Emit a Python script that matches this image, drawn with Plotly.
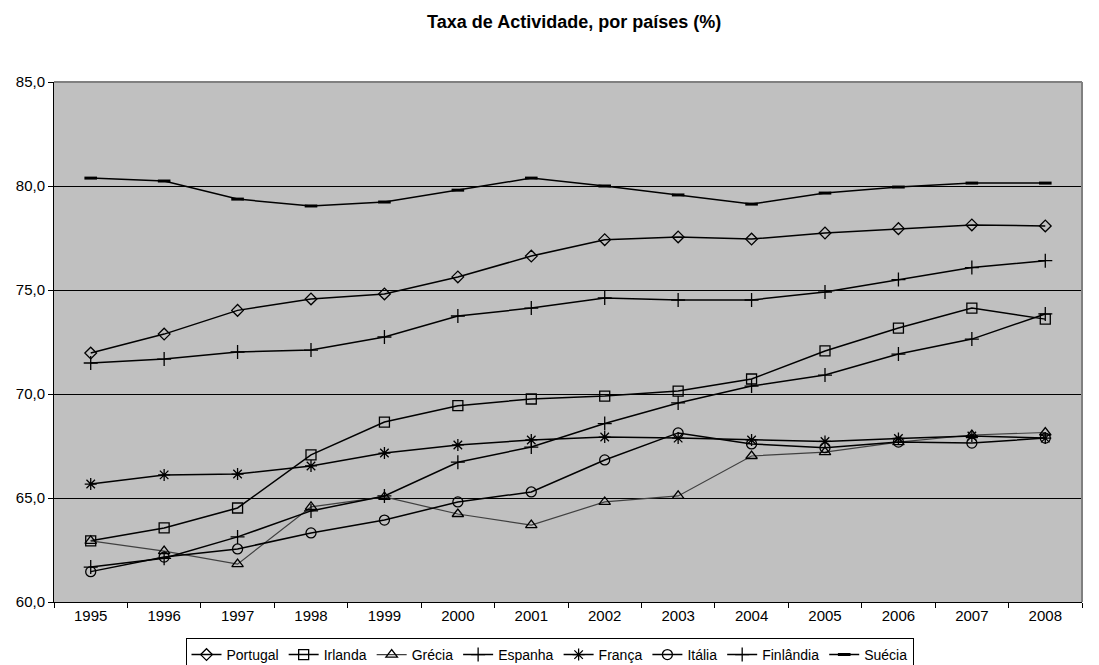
import plotly.graph_objects as go

years = ["1995", "1996", "1997", "1998", "1999", "2000", "2001", "2002", "2003", "2004", "2005", "2006", "2007", "2008"]

portugal = [71.97, 72.88, 74.02, 74.57, 74.81, 75.63, 76.63, 77.42, 77.55, 77.45, 77.74, 77.95, 78.13, 78.08]
irlanda = [62.94, 63.56, 64.52, 67.07, 68.65, 69.44, 69.76, 69.90, 70.14, 70.72, 72.07, 73.17, 74.13, 73.60]
grecia = [62.94, 62.45, 61.82, 64.57, 65.05, 64.23, 63.70, 64.81, 65.10, 67.02, 67.21, 67.69, 68.03, 68.15]
espanha = [71.49, 71.68, 72.02, 72.11, 72.74, 73.75, 74.13, 74.62, 74.52, 74.52, 74.90, 75.50, 76.08, 76.41]
franca = [65.67, 66.11, 66.15, 66.54, 67.16, 67.55, 67.79, 67.93, 67.88, 67.79, 67.72, 67.86, 67.98, 67.88]
italia = [61.46, 62.16, 62.55, 63.32, 63.94, 64.81, 65.29, 66.83, 68.13, 67.60, 67.42, 67.69, 67.64, 67.88]
finlandia = [61.68, 62.10, 63.13, 64.38, 65.10, 66.72, 67.45, 68.58, 69.57, 70.38, 70.91, 71.92, 72.64, 73.85]
suecia = [80.38, 80.24, 79.37, 79.04, 79.23, 79.80, 80.38, 80.00, 79.57, 79.13, 79.66, 79.95, 80.14, 80.14]

series = [
    ("Portugal", portugal, "diamond-open", 9, "black", 1.5),
    ("Irlanda", irlanda, "square-open", 10, "black", 1.5),
    ("Grécia", grecia, "triangle-up-open", 10, "#404040", 1.2),
    ("Espanha", espanha, "cross-thin-open", 10, "black", 1.5),
    ("França", franca, "asterisk-open", 10, "black", 1.5),
    ("Itália", italia, "circle-open", 10, "black", 1.5),
    ("Finlândia", finlandia, "cross-thin-open", 10, "black", 1.5),
    ("Suécia", suecia, "line-ew-open", 9, "black", 1.5),
]

fig = go.Figure()
for name, vals, sym, size, color, lw in series:
    mlw = 3 if sym == "line-ew-open" else 1.3
    fig.add_trace(go.Scatter(
        x=years, y=vals, name=name, mode="lines+markers",
        line=dict(color=color, width=lw),
        marker=dict(symbol=sym, size=size, color="black",
                    line=dict(color="black", width=mlw)),
    ))

fig.update_layout(
    width=1099, height=665,
    margin=dict(l=54, r=17, t=82, b=63, autoexpand=False),
    paper_bgcolor="white",
    plot_bgcolor="#C0C0C0",
    separators=",.",
    font=dict(family="Liberation Sans, Arial, sans-serif", size=15, color="black"),
    title=dict(text="<b>Taxa de Actividade, por países (%)</b>", x=0.506, xanchor="center",
               xref="paper", yref="container",
               y=1 - 22 / 665, yanchor="middle", font=dict(size=18)),
    showlegend=True,
    legend=dict(orientation="h", xref="container", yref="container",
                x=0.5, xanchor="center", y=10 / 665, yanchor="middle",
                bgcolor="white", bordercolor="black", borderwidth=1,
                font=dict(size=14), itemwidth=30, tracegroupgap=0),
    xaxis=dict(type="category", tickson="boundaries", ticks="outside", ticklen=5,
               tickcolor="black", showline=True, linecolor="black", linewidth=1,
               showgrid=False, mirror=False, range=[-0.5, 13.5], automargin=False,
               tickfont=dict(size=15)),
    yaxis=dict(range=[60, 85], dtick=5, tickformat=".1f", ticks="outside", ticklen=5,
               tickcolor="black", showline=True, linecolor="black", linewidth=1,
               showgrid=True, gridcolor="black", gridwidth=1, zeroline=False,
               automargin=False, tickfont=dict(size=15)),
)

# top/right border of plot area in grey
fig.add_shape(type="line", xref="paper", yref="paper", x0=0, x1=1, y0=1, y1=1,
              line=dict(color="#808080", width=2))
fig.add_shape(type="line", xref="paper", yref="paper", x0=1, x1=1, y0=0, y1=1,
              line=dict(color="#808080", width=2))

fig.write_html("out.html")
